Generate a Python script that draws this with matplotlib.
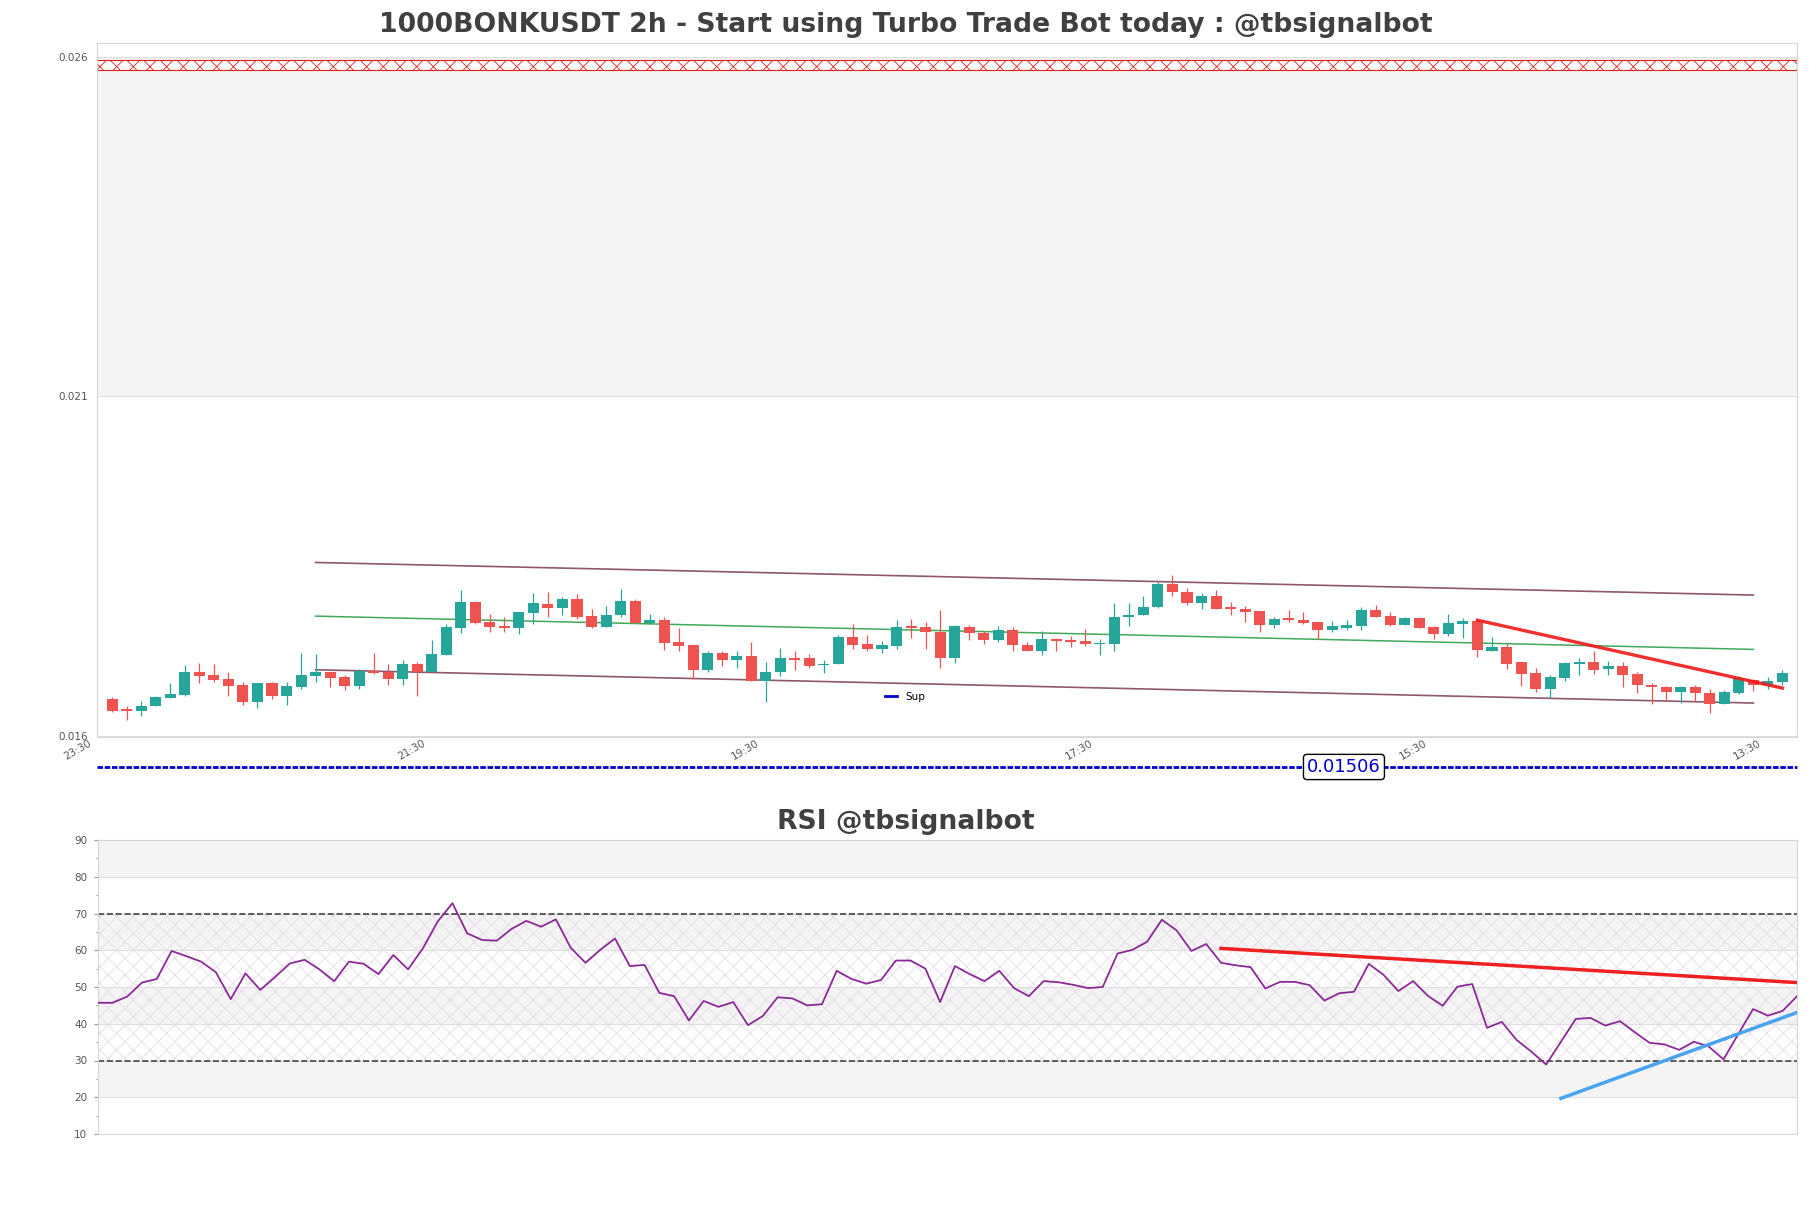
import matplotlib
matplotlib.use('Agg')
import matplotlib.pyplot as plt
import matplotlib.transforms as mtransforms
from matplotlib.lines import Line2D
from matplotlib.ticker import MultipleLocator
import numpy as np

# 2h candles
opens = [0.01654, 0.01638, 0.01637, 0.01643, 0.01656, 0.01660, 0.01693, 0.01689, 0.01683, 0.01675,
         0.01649, 0.01677, 0.01659, 0.01672, 0.01688, 0.01694, 0.01686, 0.01673, 0.01695, 0.01694,
         0.01684, 0.01705, 0.01693, 0.01719, 0.01759, 0.01797, 0.01767, 0.01761, 0.01759, 0.01781,
         0.01794, 0.01788, 0.01801, 0.01776, 0.01760, 0.01777, 0.01798, 0.01766, 0.01771, 0.01738,
         0.01733, 0.01697, 0.01722, 0.01712, 0.01718, 0.01681, 0.01693, 0.01715, 0.01714, 0.01704,
         0.01705, 0.01745, 0.01735, 0.01728, 0.01732, 0.01760, 0.01760, 0.01753, 0.01715, 0.01760,
         0.01751, 0.01741, 0.01755, 0.01734, 0.01725, 0.01743, 0.01741, 0.01739, 0.01735, 0.01735,
         0.01774, 0.01777, 0.01790, 0.01823, 0.01812, 0.01796, 0.01806, 0.01789, 0.01786, 0.01783,
         0.01763, 0.01772, 0.01771, 0.01767, 0.01755, 0.01759, 0.01762, 0.01785, 0.01776, 0.01763,
         0.01773, 0.01760, 0.01750, 0.01765, 0.01769, 0.01725, 0.01730, 0.01708, 0.01692, 0.01669,
         0.01685, 0.01706, 0.01708, 0.01698, 0.01703, 0.01691, 0.01674, 0.01672, 0.01665, 0.01671,
         0.01663, 0.01647, 0.01663, 0.01682, 0.01675, 0.01679]
highs = [0.01657, 0.01644, 0.01651, 0.01659, 0.01677, 0.01704, 0.01707, 0.01705, 0.01694, 0.01679,
         0.01677, 0.01679, 0.01679, 0.01722, 0.01720, 0.01694, 0.01690, 0.01698, 0.01722, 0.01706,
         0.01711, 0.01708, 0.01741, 0.01765, 0.01814, 0.01799, 0.01779, 0.01775, 0.01782, 0.01810,
         0.01811, 0.01804, 0.01809, 0.01786, 0.01791, 0.01816, 0.01801, 0.01779, 0.01775, 0.01758,
         0.01733, 0.01725, 0.01725, 0.01725, 0.01738, 0.01708, 0.01729, 0.01725, 0.01720, 0.01711,
         0.01748, 0.01764, 0.01748, 0.01739, 0.01770, 0.01772, 0.01767, 0.01785, 0.01763, 0.01763,
         0.01754, 0.01761, 0.01760, 0.01738, 0.01754, 0.01744, 0.01746, 0.01757, 0.01742, 0.01795,
         0.01795, 0.01806, 0.01826, 0.01837, 0.01817, 0.01810, 0.01814, 0.01797, 0.01791, 0.01784,
         0.01774, 0.01785, 0.01782, 0.01768, 0.01769, 0.01770, 0.01790, 0.01792, 0.01782, 0.01774,
         0.01774, 0.01762, 0.01779, 0.01773, 0.01770, 0.01745, 0.01736, 0.01709, 0.01699, 0.01689,
         0.01709, 0.01714, 0.01725, 0.01710, 0.01708, 0.01694, 0.01678, 0.01673, 0.01673, 0.01674,
         0.01669, 0.01667, 0.01688, 0.01684, 0.01686, 0.01696]
lows = [0.01635, 0.01623, 0.01629, 0.01643, 0.01656, 0.01658, 0.01678, 0.01679, 0.01658, 0.01645,
        0.01640, 0.01654, 0.01645, 0.01668, 0.01679, 0.01671, 0.01667, 0.01669, 0.01691, 0.01675,
        0.01675, 0.01659, 0.01693, 0.01719, 0.01751, 0.01764, 0.01753, 0.01752, 0.01749, 0.01765,
        0.01775, 0.01778, 0.01772, 0.01758, 0.01760, 0.01774, 0.01766, 0.01764, 0.01726, 0.01725,
        0.01683, 0.01693, 0.01703, 0.01699, 0.01681, 0.01650, 0.01688, 0.01697, 0.01700, 0.01692,
        0.01705, 0.01728, 0.01725, 0.01722, 0.01728, 0.01744, 0.01727, 0.01700, 0.01707, 0.01741,
        0.01735, 0.01738, 0.01725, 0.01724, 0.01719, 0.01725, 0.01730, 0.01732, 0.01719, 0.01724,
        0.01762, 0.01777, 0.01788, 0.01805, 0.01793, 0.01787, 0.01787, 0.01777, 0.01768, 0.01752,
        0.01758, 0.01767, 0.01765, 0.01742, 0.01753, 0.01755, 0.01756, 0.01775, 0.01762, 0.01763,
        0.01758, 0.01742, 0.01746, 0.01744, 0.01716, 0.01724, 0.01698, 0.01673, 0.01664, 0.01655,
        0.01680, 0.01690, 0.01691, 0.01690, 0.01672, 0.01663, 0.01646, 0.01653, 0.01648, 0.01651,
        0.01634, 0.01647, 0.01662, 0.01666, 0.01668, 0.01675]
closes = [0.01637, 0.01637, 0.01644, 0.01657, 0.01661, 0.01694, 0.01688, 0.01682, 0.01673, 0.01649,
          0.01677, 0.01658, 0.01673, 0.01689, 0.01694, 0.01685, 0.01673, 0.01695, 0.01692, 0.01684,
          0.01705, 0.01694, 0.01720, 0.01760, 0.01797, 0.01766, 0.01760, 0.01759, 0.01782, 0.01795,
          0.01788, 0.01801, 0.01775, 0.01760, 0.01778, 0.01798, 0.01766, 0.01771, 0.01737, 0.01732,
          0.01697, 0.01722, 0.01712, 0.01717, 0.01681, 0.01694, 0.01715, 0.01712, 0.01702, 0.01705,
          0.01745, 0.01734, 0.01728, 0.01733, 0.01760, 0.01759, 0.01752, 0.01715, 0.01761, 0.01751,
          0.01741, 0.01755, 0.01734, 0.01725, 0.01743, 0.01740, 0.01738, 0.01735, 0.01736, 0.01775,
          0.01778, 0.01789, 0.01823, 0.01812, 0.01796, 0.01806, 0.01787, 0.01786, 0.01782, 0.01763,
          0.01772, 0.01771, 0.01766, 0.01755, 0.01761, 0.01763, 0.01785, 0.01775, 0.01763, 0.01773,
          0.01759, 0.01750, 0.01766, 0.01769, 0.01726, 0.01730, 0.01706, 0.01691, 0.01669, 0.01686,
          0.01707, 0.01708, 0.01697, 0.01703, 0.01690, 0.01674, 0.01672, 0.01665, 0.01671, 0.01663,
          0.01647, 0.01664, 0.01685, 0.01675, 0.01680, 0.01692]

rsi = [45.7, 45.7, 47.4, 51.2, 52.2, 59.8, 58.4, 56.9, 54.0, 46.7,
       53.7, 49.2, 52.7, 56.4, 57.4, 54.8, 51.6, 56.9, 56.3, 53.5,
       58.7, 54.8, 60.5, 67.8, 72.8, 64.6, 62.8, 62.6, 65.8, 68.0,
       66.4, 68.4, 60.7, 56.6, 60.1, 63.2, 55.7, 56.0, 48.4, 47.5,
       40.9, 46.2, 44.6, 45.9, 39.6, 42.1, 47.2, 46.9, 45.0, 45.3,
       54.4, 52.2, 50.9, 51.9, 57.2, 57.2, 55.0, 45.9, 55.7, 53.5,
       51.6, 54.4, 49.7, 47.5, 51.6, 51.3, 50.6, 49.7, 50.0, 59.1,
       60.1, 62.3, 68.3, 65.4, 59.8, 61.7, 56.6, 55.9, 55.4, 49.6,
       51.4, 51.4, 50.5, 46.3, 48.3, 48.7, 56.3, 53.3, 48.9, 51.6,
       47.6, 44.9, 50.1, 50.8, 38.9, 40.5, 35.6, 32.4, 28.9, 35.1,
       41.3, 41.6, 39.5, 40.7, 37.7, 34.8, 34.4, 32.9, 35.1, 33.8,
       30.3, 37.2, 44.0, 42.2, 43.5, 47.6]

time_labels = ['23:30', '21:30', '19:30', '17:30', '15:30', '13:30']
label_pos = [0, 23, 46, 69, 92, 115]

# drawn objects (candle index, price)
channel_x = [14, 113]
channel_top = [0.01855, 0.01807]
channel_mid = [0.01776, 0.01727]
channel_low = [0.01697, 0.01648]
trend_x = [94, 115]
trend_y = [0.01770, 0.01670]
resist_lo, resist_hi = 0.02580, 0.02595
sup_level = 0.01506

rsi_down_x = [76, 115]
rsi_down_y = [60.5, 51.2]
rsi_up_x = [99, 115]
rsi_up_y = [19.7, 43.1]

GREEN = '#26a69a'
RED = '#ef5350'
BAND = '#f4f4f4'
GRID = '#dedede'
TXT = '#555555'

plt.rcParams['hatch.linewidth'] = 0.6

fig = plt.figure(figsize=(18.11, 12.08), dpi=100)
W, H = 1811.0, 1208.0
ax = fig.add_axes([97 / W, 1 - 737 / H, 1700 / W, 694 / H])
ax2 = fig.add_axes([97.7 / W, 1 - 1134 / H, 1699.7 / W, 294 / H])

# ---------------- price panel ----------------
o = np.array(opens)
h = np.array(highs)
l = np.array(lows)
c = np.array(closes)
x = np.arange(len(o))
up = c >= o
cols = np.where(up, GREEN, RED)

yt = [0.016, 0.021, 0.026, 0.031]
for k in range(len(yt) - 1):
    if k % 2 == 1:
        ax.axhspan(yt[k], yt[k + 1], color=BAND, zorder=0, lw=0)
ax.axhspan(resist_lo, resist_hi, facecolor='white', edgecolor='#e02020',
           hatch='xx', lw=0.8, zorder=1)

ax.vlines(x, l, h, colors=cols, lw=0.9, zorder=3)
ax.bar(x, np.maximum(np.abs(c - o), 0.000018), bottom=np.minimum(o, c),
       width=0.76, color=cols, lw=0, zorder=4)

ax.plot(channel_x, channel_top, color='#7b3a52', lw=1.2, alpha=0.85, zorder=2)
ax.plot(channel_x, channel_low, color='#7b3a52', lw=1.2, alpha=0.85, zorder=2)
ax.plot(channel_x, channel_mid, color='#1f9a3a', lw=1.1, alpha=0.85, zorder=2)
ax.plot(trend_x, trend_y, color='#f01818', lw=2.4, alpha=0.9, zorder=5)

ax.set_xlim(-1.05, 116.0)
ax.set_ylim(0.01598, 0.02620)
ax.set_yticks(yt[:3])
ax.set_yticklabels(['0.016', '0.021', '0.026'])
ax.grid(axis='y', color=GRID, lw=0.8, zorder=0.5)
ax.set_axisbelow(True)
ax.tick_params(axis='y', length=0, pad=6.5, labelsize=7.5, labelcolor=TXT)
ax.set_xticks(label_pos)
ax.set_xticklabels(time_labels)
ax.tick_params(axis='x', length=0, pad=1, labelsize=7.5, labelcolor=TXT, labelrotation=30)
shift = mtransforms.ScaledTranslation(-0.195, 0, fig.dpi_scale_trans)
for lbl in ax.get_xticklabels():
    lbl.set_ha('right')
    lbl.set_transform(lbl.get_transform() + shift)
for sp in ax.spines.values():
    sp.set_color('#d6d6d6')

# support level line below the panel
sup_y = -0.0432
ax.plot([0, 1], [sup_y, sup_y], transform=ax.transAxes, clip_on=False,
        color='#0000cc', lw=2.0, ls=(0, (2, 0.6)), zorder=6)
ax.text(0.7335, sup_y, f'{sup_level:.5f}', transform=ax.transAxes,
        ha='center', va='center', fontsize=13, color='#0000cc', zorder=7,
        bbox=dict(boxstyle='round,pad=0.2', fc='white', ec='black', lw=1))
fig.legend(handles=[Line2D([0], [0], color='#0000cc', lw=2)], labels=['Sup'],
           loc='center', bbox_to_anchor=(905 / W, 1 - 697 / H), frameon=False,
           fontsize=7.5, handlelength=1.1, handletextpad=0.8)

fig.text(0.5, 1 - 32.5 / H, '1000BONKUSDT 2h - Start using Turbo Trade Bot today : @tbsignalbot',
         ha='center', va='baseline', fontsize=19.15, fontweight='bold', color='#404040')

# ---------------- RSI panel ----------------
rt = np.arange(10, 91, 10)
for k in range(len(rt) - 1):
    if k % 2 == 1:
        ax2.axhspan(rt[k], rt[k + 1], color=BAND, zorder=0, lw=0)
ax2.axhspan(30, 70, facecolor='none', edgecolor='#e6dbe9', hatch='xx', lw=0, zorder=0.6)
ax2.axhline(70, color='#444444', lw=1.2, ls='--', zorder=2)
ax2.axhline(30, color='#444444', lw=1.2, ls='--', zorder=2)

xr = np.arange(len(rsi))
ax2.plot(xr, rsi, color='#8b2a97', lw=1.3, zorder=3)
ax2.plot(rsi_down_x, rsi_down_y, color='#f02020', lw=2.5, zorder=4)
ax2.plot(rsi_up_x, rsi_up_y, color='#4aa3f0', lw=2.5, zorder=4)

ax2.set_xlim(0, len(rsi) - 1)
ax2.set_ylim(10, 90)
ax2.set_yticks(rt)
ax2.yaxis.set_minor_locator(MultipleLocator(5))
ax2.set_xticks([])
ax2.grid(axis='y', color=GRID, lw=0.8, zorder=0.5)
ax2.set_axisbelow(True)
ax2.tick_params(axis='y', which='major', length=3.1, width=0.8, color='#999999',
                pad=4.4, labelsize=7.5, labelcolor=TXT)
ax2.tick_params(axis='y', which='minor', length=1.6, width=0.7, color='#999999')
for sp in ax2.spines.values():
    sp.set_color('#d6d6d6')

fig.text(0.5, 1 - 829 / H, 'RSI @tbsignalbot', ha='center', va='baseline',
         fontsize=19.15, fontweight='bold', color='#404040')

fig.savefig('out.png', dpi=100)
